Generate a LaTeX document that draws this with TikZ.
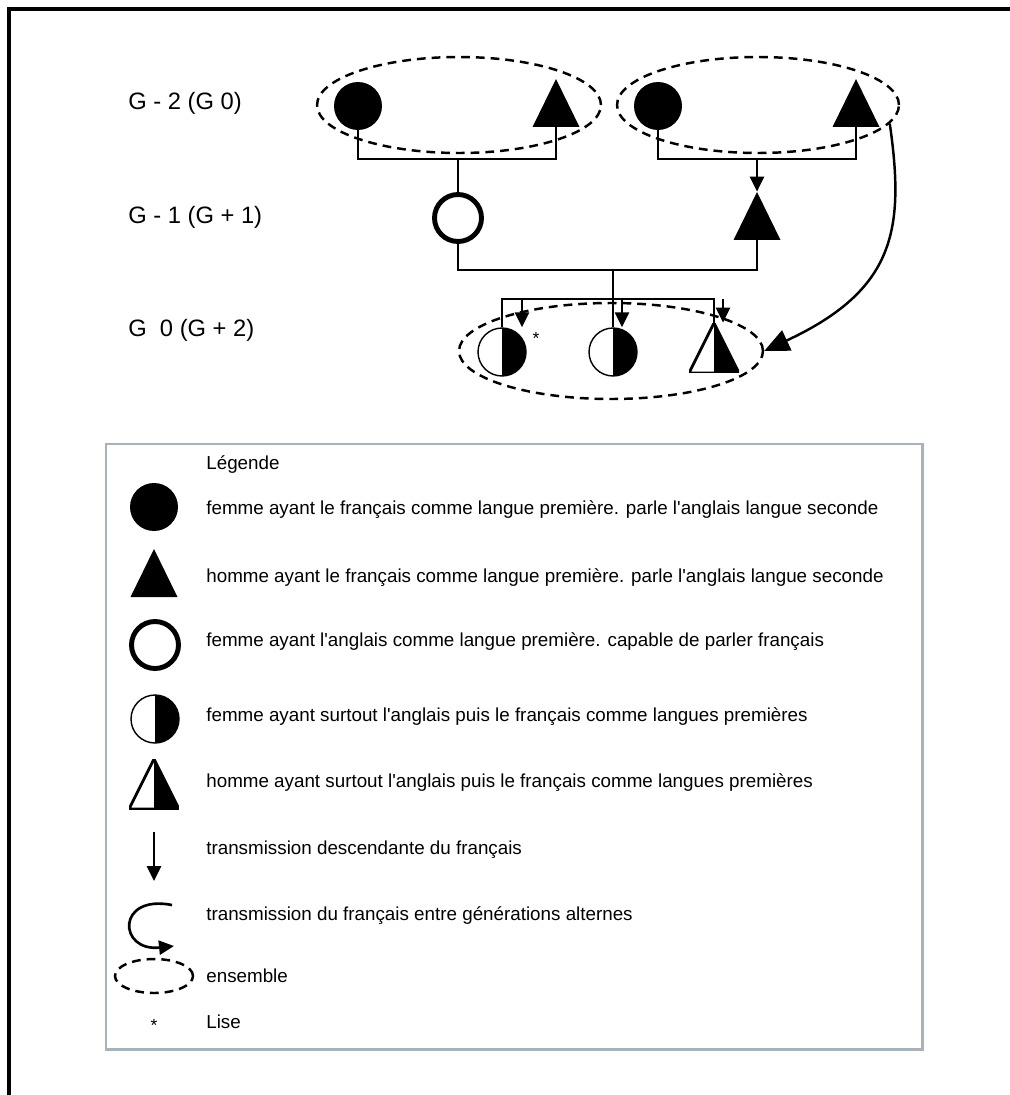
\documentclass[tikz,border=0pt]{standalone}
\usepackage{fontspec}
\newfontfamily\arialfont{Liberation Sans}
\usetikzlibrary{arrows.meta,shapes.geometric}
\definecolor{cadre}{RGB}{168,178,186}
\tikzset{
x=0.02cm,
y=-0.02cm,
lien/.style={line width=1.1pt},
desc/.style={line width=1.5pt, -{Triangle[length=3mm,width=2.8mm]}},
alt/.style={line width=1.4pt, -{Triangle[length=5mm,width=4.4mm]}},
femme/.style={circle, fill=black, inner sep=0pt, minimum size=0.96cm},
anglo/.style={circle, draw, line width=2.8pt, inner sep=0pt, minimum size=0.94cm},
homme/.style={rectangle, inner sep=0pt, minimum width=0.94cm, minimum height=0.96cm,
  path picture={\fill (path picture bounding box.south west) -- (path picture bounding box.south east)
    -- (path picture bounding box.north) -- cycle;}},
mixte/.style={circle, draw, line width=0.8pt, inner sep=0pt, minimum size=0.96cm,
  path picture={\fill (path picture bounding box.north) rectangle (path picture bounding box.south east);}},
mixteh/.style={rectangle, inner sep=0pt, minimum width=1cm, minimum height=1cm,
  path picture={\fill (path picture bounding box.north) -- (path picture bounding box.south east)
    -- (path picture bounding box.south) -- cycle;
    \draw[line width=1.6pt, line join=miter] (path picture bounding box.south west) -- (path picture bounding box.south east)
    -- (path picture bounding box.north) -- cycle;}},
ensemble/.style={ellipse, draw, dash pattern=on 5pt off 3.4pt, line width=1.4pt, inner sep=0pt},
gen/.style={font=\arialfont\fontsize{13.5}{16}\selectfont, anchor=west, inner sep=0pt},
legtext/.style={font=\arialfont\fontsize{10.7}{12}\selectfont, anchor=west, inner sep=0pt},
}

\begin{document}
\begin{tikzpicture}
    [legbox/.style={draw=cadre, line width=1.7pt}]
    \useasboundingbox (0,0) rectangle (1010,1095);
    \draw[line width=2.3pt] (9,1095) -- (9,9) -- (1010,9);

    \node [gen] (lg2) at (128,103) {G - 2 (G 0)};
    \node [gen] (lg1) at (128,217) {G - 1 (G + 1)};
    \node [gen] (lg0) at (128,330) {G\ \ 0 (G + 2)};

    \node [ensemble, minimum width=5.68cm, minimum height=1.92cm] (e2a) at (459,105) {};
    \node [ensemble, minimum width=5.64cm, minimum height=1.92cm] (e2b) at (758,105) {};
    \node [ensemble, minimum width=6.08cm, minimum height=1.92cm] (e0) at (611,351) {};

    \node [femme] (g2a) at (358,106) {};
    \node [homme] (g2b) at (556,103) {};
    \node [femme] (g2c) at (658,106) {};
    \node [homme] (g2d) at (856,103) {};

    \node [anglo] (g1a) at (458,218) {};
    \node [homme] (g1b) at (757,216) {};

    \node [mixte] (g0a) at (502,352) {};
    \node [mixte] (g0b) at (613,352) {};
    \node [mixteh] (g0c) at (714,348) {};
    \node [font=\arialfont, inner sep=0pt] (lise) at (536,338) {*};

    \coordinate (bar2) at (0,159);
    \coordinate (bar1) at (0,270);
    \coordinate (bar0) at (0,299);

    \draw[lien] (g2a.south) -- (g2a.south |- bar2) -| (g2b.south);
    \draw[lien] (g1a.north) -- (g1a.north |- bar2);
    \draw[lien] (g2c.south) -- (g2c.south |- bar2) -| (g2d.south);
    \draw[desc] (g1b.north |- bar2) -- (g1b.north);
    \draw[lien] (g1a.south) -- (g1a.south |- bar1) -| (g1b.south);
    \draw[lien] (g0b.north |- bar1) -- (g0b.north);
    \draw[lien] (g0a.north) -- (g0a.north |- bar0) -| (g0c.north);

    \coordinate (t0a) at ([xshift=0.4cm]g0a.north);
    \coordinate (t0b) at ([xshift=0.18cm]g0b.north);
    \coordinate (t0c) at ([xshift=0.18cm]g0c.north);
    \draw[desc] (t0a |- bar0) -- (t0a);
    \draw[desc] (t0b |- bar0) -- (t0b);
    \draw[desc] (t0c |- bar0) -- (t0c);

    \draw[alt] (e2b.-8) .. controls (905,230) and (895,290) .. (e0.east);

    % legende
    \draw[legbox] (106,444) rectangle (922,1049);
    \node [legtext] (leg) at (206,465) {Légende};

    \node [femme] (l1) at (154,507) {};
    \node [legtext] (t1) at (206,510) {femme ayant le français comme langue première. parle l'anglais langue seconde};
    \node [homme] (l2) at (154,573) {};
    \node [legtext] (t2) at (206,578) {homme ayant le français comme langue première. parle l'anglais langue seconde};
    \node [anglo] (l3) at (155,645) {};
    \node [legtext] (t3) at (206,642) {femme ayant l'anglais comme langue première. capable de parler français};
    \node [mixte] (l4) at (155,719) {};
    \node [legtext] (t4) at (206,717) {femme ayant surtout l'anglais puis le français comme langues premières};
    \node [mixteh] (l5) at (154,784) {};
    \node [legtext] (t5) at (206,783) {homme ayant surtout l'anglais puis le français comme langues premières};

    \coordinate (d1) at (154,832);
    \coordinate (d2) at (154,881);
    \draw[desc] (d1) -- (d2);
    \node [legtext] (t6) at (206,850) {transmission descendante du français};

    \coordinate (c1) at (172,905);
    \coordinate (c2) at (174,946);
    \draw[desc] (c1) .. controls (116,894) and (118,952) .. (c2);
    \node [legtext] (t7) at (206,916) {transmission du français entre générations alternes};

    \node [ensemble, minimum width=1.56cm, minimum height=0.68cm] (l8) at (154,976) {};
    \node [legtext] (t8) at (206,976) {ensemble};
    \node [font=\arialfont, inner sep=0pt] (l9) at (154,1025) {*};
    \node [legtext] (t9) at (206,1022) {Lise};
\end{tikzpicture}
\end{document}
